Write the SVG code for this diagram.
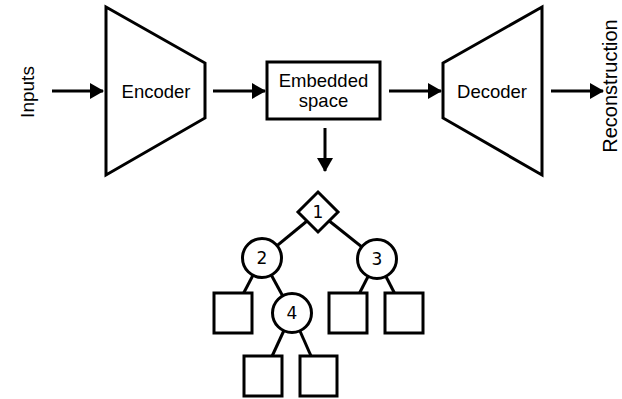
<svg xmlns="http://www.w3.org/2000/svg" width="622" height="399" viewBox="0 0 622 399">
<style>
.s{fill:#fff;stroke:#000;stroke-width:3;stroke-linejoin:miter}
.t{font-family:"Liberation Sans",Arial,sans-serif;font-size:18.5px;fill:#000;text-anchor:middle}
.n{font-family:"DejaVu Sans",sans-serif;font-size:17px;fill:#000;text-anchor:middle}
.c{stroke:#000;stroke-width:3;fill:none}
</style>
<defs>
<marker id="ah" markerUnits="userSpaceOnUse" markerWidth="14" markerHeight="16" refX="13" refY="8" orient="auto"><path d="M0,0 L14,8 L0,16 Z" fill="#000"/></marker>
</defs>
<g id="connectors">
<line class="c" x1="52" y1="91" x2="103" y2="91" marker-end="url(#ah)"/>
<line class="c" x1="213" y1="91" x2="265" y2="91" marker-end="url(#ah)"/>
<line class="c" x1="389" y1="91" x2="441" y2="91" marker-end="url(#ah)"/>
<line class="c" x1="551" y1="91" x2="603" y2="91" marker-end="url(#ah)"/>
<line class="c" x1="325" y1="128" x2="325" y2="171" marker-end="url(#ah)"/>
<line class="c" x1="318" y1="212" x2="262" y2="258"/>
<line class="c" x1="318" y1="212" x2="377" y2="259"/>
<line class="c" x1="262" y1="258" x2="240" y2="300"/>
<line class="c" x1="262" y1="258" x2="292" y2="313"/>
<line class="c" x1="377" y1="259" x2="356" y2="300"/>
<line class="c" x1="377" y1="259" x2="398" y2="300"/>
<line class="c" x1="292" y1="313" x2="268" y2="365"/>
<line class="c" x1="292" y1="313" x2="315" y2="365"/>
</g>
<text class="t" style="font-size:19px" transform="translate(34,92) rotate(-90)">Inputs</text>
<text class="t" style="font-size:20px" transform="translate(617,86) rotate(-90)">Reconstruction</text>
<g id="encoder">
<polygon class="s" points="106,7 205,63 205,118 106,175"/>
<text class="t" x="156" y="98">Encoder</text>
</g>
<g id="embedded">
<rect class="s" x="267" y="62" width="113" height="57"/>
<text class="t" x="323.5" y="87">Embedded</text>
<text class="t" x="323.5" y="107">space</text>
</g>
<g id="decoder">
<polygon class="s" points="443,63 542,7 542,175 443,118"/>
<text class="t" x="492" y="98">Decoder</text>
</g>
<g id="n1">
<polygon class="s" points="318,192 338,212 318,232 298,212"/>
<text class="n" x="318" y="218">1</text>
</g>
<g id="n2">
<circle class="s" cx="262" cy="258" r="19.5"/>
<text class="n" x="262" y="264">2</text>
</g>
<g id="n3">
<circle class="s" cx="377" cy="259" r="19.5"/>
<text class="n" x="377" y="265">3</text>
</g>
<g id="n4">
<circle class="s" cx="292" cy="313" r="19.5"/>
<text class="n" x="292" y="319">4</text>
</g>
<g id="leaf2a"><rect class="s" x="214" y="293" width="38" height="40"/></g>
<g id="leaf3a"><rect class="s" x="329" y="293" width="38" height="40"/></g>
<g id="leaf3b"><rect class="s" x="385" y="293" width="38" height="40"/></g>
<g id="leaf4a"><rect class="s" x="244" y="356" width="38" height="40"/></g>
<g id="leaf4b"><rect class="s" x="300" y="356" width="37" height="40"/></g>
</svg>
